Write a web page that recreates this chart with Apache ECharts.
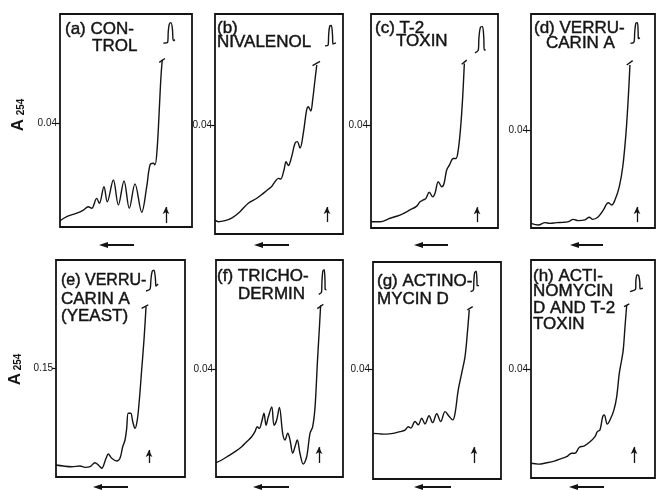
<!DOCTYPE html>
<html><head><meta charset="utf-8">
<script src="https://cdn.jsdelivr.net/npm/echarts@6/dist/echarts.min.js"></script>
<style>html,body{margin:0;padding:0;background:#fff}#c{width:656px;height:490px}</style>
</head><body><div id="c"></div>
<script>
// ---- data (x: position across gradient 0-100, y: A254) ----
const profileA = [[0,0.0024],[5.1,0.0040],[12.7,0.0053],[17.7,0.0065],[21.4,0.0078],[24.0,0.0072],[27.8,0.0110],[29.8,0.0091],[33.3,0.0155],[35.8,0.0097],[40.4,0.0181],[44.2,0.0085],[48.5,0.0177],[52.5,0.0072],[56.8,0.0166],[61.9,0.0057],[65.7,0.0155],[68.2,0.0239],[70.7,0.0245],[72.0,0.0239],[73.7,0.0309],[75.2,0.0450],[76.5,0.0579],[77.5,0.0643]];
const profileB = [[0,0.0051],[2.6,0.0045],[7.8,0.0049],[13.0,0.0058],[19.5,0.0082],[26.0,0.0113],[32.6,0.0131],[37.7,0.0149],[41.6,0.0164],[44.3,0.0174],[46.9,0.0192],[49.5,0.0204],[51.3,0.0202],[53.9,0.0235],[55.5,0.0265],[57.3,0.0251],[59.9,0.0284],[62.5,0.0333],[64.3,0.0339],[66.4,0.0315],[69.0,0.0370],[71.6,0.0455],[72.9,0.0467],[74.8,0.0451],[76.3,0.0492],[78.1,0.0565],[79.5,0.0620]];
const profileC = [[0,0.0024],[7.1,0.0024],[15.0,0.0038],[22.8,0.0050],[30.7,0.0070],[36.0,0.0085],[38.6,0.0102],[41.2,0.0109],[43.3,0.0115],[45.9,0.0139],[48.6,0.0121],[50.4,0.0135],[53.0,0.0180],[55.7,0.0160],[57.5,0.0173],[59.6,0.0225],[61.7,0.0244],[64.8,0.0270],[66.9,0.0270],[68.7,0.0303],[70.6,0.0393],[72.2,0.0509],[73.5,0.0639]];
const profileD = [[0,0.0019],[5.9,0.0012],[11.3,0.0022],[15.3,0.0019],[20.7,0.0022],[26.0,0.0023],[30.1,0.0026],[34.1,0.0035],[38.1,0.0030],[43.5,0.0033],[47.0,0.0044],[49.8,0.0035],[54.3,0.0046],[58.3,0.0073],[62.3,0.0103],[65.1,0.0094],[67.7,0.0114],[71.2,0.0169],[74.0,0.0250],[76.6,0.0386],[78.5,0.0536],[79.8,0.0665]];
const profileE = [[0,0.0165],[5.7,0.0151],[12.2,0.0142],[18.6,0.0151],[22.5,0.0133],[26.4,0.0142],[30.2,0.0197],[34.1,0.0142],[35.4,0.0120],[38.8,0.0257],[40.5,0.0316],[43.2,0.0257],[47.1,0.0220],[49.6,0.0257],[51.7,0.0417],[53.5,0.0509],[54.8,0.0670],[56.0,0.0877],[57.9,0.0877],[59.5,0.0761],[61.2,0.0670],[63.0,0.0784],[64.6,0.1060],[66.4,0.1472],[68.2,0.1885],[69.8,0.2343]];
const profileF = [[0,0.0053],[4.5,0.0063],[9.7,0.0078],[15.0,0.0094],[20.2,0.0112],[24.2,0.0131],[28.1,0.0149],[30.7,0.0168],[32.5,0.0186],[34.1,0.0180],[36.0,0.0205],[37.8,0.0236],[39.4,0.0192],[41.2,0.0223],[43.9,0.0260],[45.7,0.0192],[47.8,0.0211],[49.9,0.0258],[52.5,0.0162],[54.3,0.0137],[56.5,0.0162],[58.3,0.0137],[60.4,0.0088],[62.2,0.0112],[64.0,0.0137],[66.1,0.0088],[68.7,0.0048],[71.4,0.0075],[74.0,0.0162],[76.1,0.0186],[78.0,0.0260],[79.8,0.0421],[81.3,0.0544],[82.4,0.0636]];
const profileG = [[0,0.0166],[5.5,0.0164],[10.7,0.0163],[15.9,0.0166],[21.1,0.0172],[25.0,0.0178],[27.6,0.0190],[29.5,0.0185],[32.8,0.0209],[35.4,0.0197],[38.0,0.0221],[40.6,0.0200],[43.8,0.0230],[46.6,0.0205],[49.8,0.0237],[52.9,0.0209],[56.3,0.0245],[59.6,0.0227],[62.3,0.0215],[64.1,0.0239],[66.6,0.0324],[69.3,0.0385],[71.9,0.0445],[73.7,0.0530],[75.2,0.0615]];
const profileH = [[0,0.0054],[5.9,0.0051],[12.7,0.0056],[19.4,0.0063],[24.8,0.0072],[28.8,0.0078],[32.8,0.0091],[35.5,0.0091],[39.0,0.0113],[42.7,0.0117],[47.6,0.0133],[51.6,0.0152],[53.5,0.0170],[55.6,0.0176],[57.8,0.0225],[59.1,0.0231],[61.5,0.0198],[64.3,0.0219],[66.9,0.0250],[69.1,0.0298],[71.2,0.0384],[73.1,0.0433],[74.4,0.0470],[75.8,0.0555],[77.2,0.0635]];

// broken-off top of the 80S peak (inset) and the break mark
const peakA = [[78.3,0.0707],[81.6,0.0711],[82.0,0.0750],[82.8,0.0780],[84.1,0.0786],[85.2,0.0760],[85.8,0.0717],[87.1,0.0720]];
const peakB = [[85.9,0.0690],[88.3,0.0692],[88.8,0.0730],[89.6,0.0762],[90.9,0.0765],[91.8,0.0730],[92.2,0.0697],[94.5,0.0701]];
const peakC = [[81.9,0.0680],[84.5,0.0691],[85.0,0.0740],[86.2,0.0780],[87.8,0.0782],[88.8,0.0740],[89.2,0.0691],[90.3,0.0693]];
const peakD = [[80.2,0.0753],[83.1,0.0759],[83.6,0.0795],[84.5,0.0835],[85.8,0.0838],[86.4,0.0800],[86.5,0.0773],[87.9,0.0775]];
const peakE = [[69.8,0.2559],[72.9,0.2587],[73.6,0.2720],[74.6,0.2830],[76.0,0.2845],[77.1,0.2720],[77.5,0.2628],[79.1,0.2656]];
const peakF = [[80.9,0.0677],[83.1,0.0685],[83.4,0.0720],[84.1,0.0762],[85.2,0.0768],[85.8,0.0730],[85.9,0.0696],[87.0,0.0694]];
const peakG = [[76.2,0.0681],[78.5,0.0688],[78.8,0.0720],[79.4,0.0750],[80.6,0.0756],[81.2,0.0725],[81.3,0.0703],[82.8,0.0703]];
const peakH = [[79.8,0.0684],[84.4,0.0694],[84.6,0.0725],[85.5,0.0745],[86.8,0.0743],[87.7,0.0720],[87.9,0.0694],[90.3,0.0697]];

const breakA = [[75.2,0.0633],[79.5,0.0648]];
const breakB = [[76.2,0.0618],[82.0,0.0633]];
const breakC = [[71.4,0.0636],[75.4,0.0652]];
const breakD = [[77.2,0.0665],[82.0,0.0683]];
const breakE = [[66.4,0.2321],[71.5,0.2367]];
const breakF = [[79.8,0.0624],[84.5,0.0640]];
const breakG = [[73.7,0.0615],[77.9,0.0627]];
const breakH = [[75.0,0.0629],[79.3,0.0639]];

// small up-arrow markers (x position, from y, to y)
const markerX    = [80.3, 87.5, 83.5, 85.5, 72.1, 81.1, 78.9, 83.1];
const markerFrom = [0.0015, 0.0044, 0.0023, 0.0024, 0.0193, 0.0052, 0.0058, 0.0055];
const markerTo   = [0.0077, 0.0099, 0.0081, 0.0086, 0.0372, 0.0111, 0.0116, 0.0114];

// axis tick labels and ranges
const tickValues = [0.04, 0.04, 0.04, 0.04, 0.15, 0.04, 0.04, 0.04];
const yMax = [0.0819, 0.0807, 0.0831, 0.0873, 0.2986, 0.0804, 0.0789, 0.0800];

const panelTitles = [
  ['(a) CON-', 'TROL'],
  ['(b)', 'NIVALENOL'],
  ['(c) T-2', 'TOXIN'],
  ['(d) VERRU-', 'CARIN A'],
  ['(e) VERRU-', 'CARIN A', '(YEAST)'],
  ['(f) TRICHO-', 'DERMIN'],
  ['(g) ACTINO-', 'MYCIN D'],
  ['(h) ACTI-', 'NOMYCIN', 'D AND T-2', 'TOXIN']
];

// ---- layout ----
const profiles = [profileA, profileB, profileC, profileD, profileE, profileF, profileG, profileH];
const peaks = [peakA, peakB, peakC, peakD, peakE, peakF, peakG, peakH];
const breaks = [breakA, breakB, breakC, breakD, breakE, breakF, breakG, breakH];

const boxes = [
  {left: 60, top: 14, width: 132, height: 213},
  {left: 215, top: 14, width: 128, height: 220},
  {left: 371, top: 14, width: 127, height: 214},
  {left: 531, top: 14, width: 124, height: 214},
  {left: 56, top: 260, width: 129, height: 217},
  {left: 216, top: 260, width: 127, height: 217},
  {left: 373, top: 262, width: 128, height: 217},
  {left: 531, top: 260, width: 124, height: 218}
];
const titlePos = [
  [[65, 21], [92, 38]],
  [[217, 20], [217, 34]],
  [[375, 20], [396, 33]],
  [[534, 20], [546, 35]],
  [[61, 273], [61, 291], [61, 308]],
  [[217, 268], [238, 286]],
  [[377, 273], [377, 291]],
  [[533, 268], [533, 283], [533, 300], [533, 316]]
];
const titleSize = [
  [17, 17], [17, 17], [17, 17], [17, 17],
  [16, 17, 17], [17, 17], [17, 17], [17, 17, 17, 17]
];
const arrowsBelow = [
  [99, 134, 245], [254, 289, 245], [414, 448, 245], [570, 603, 245],
  [93, 128, 487], [253, 289, 487], [414, 451, 487], [569, 604, 487]
];

const FONT = '"Liberation Sans", Arial, Helvetica, sans-serif';
const INK = '#141414';

const grid = [], xAxis = [], yAxis = [], series = [], graphic = [];

for (let i = 0; i < 8; i++) {
  const b = boxes[i];
  grid.push({left: b.left, top: b.top, width: b.width, height: b.height,
    show: true, borderColor: INK, borderWidth: 1.8, backgroundColor: 'transparent', containLabel: false});
  xAxis.push({type: 'value', gridIndex: i, min: 0, max: 100, show: false});
  yAxis.push({type: 'value', gridIndex: i, min: 0, max: yMax[i],
    axisLine: {show: false}, splitLine: {show: false},
    axisTick: {show: true, customValues: [tickValues[i]], length: 4, lineStyle: {color: INK, width: 1.2}},
    axisLabel: {show: true, customValues: [tickValues[i]], fontSize: 10, color: INK, margin: 3, fontFamily: FONT}
  });
  series.push({
    type: 'line', xAxisIndex: i, yAxisIndex: i, data: profiles[i], smooth: 0.35,
    symbol: 'none', clip: false, lineStyle: {color: INK, width: 1.4},
    markLine: {
      silent: true, animation: false, label: {show: false},
      lineStyle: {color: INK, width: 1.3, type: 'solid'},
      data: [[
        {coord: [markerX[i], markerFrom[i]], symbol: 'none'},
        {coord: [markerX[i], markerTo[i]], symbol: 'arrow', symbolSize: [5, 7]}
      ]]
    }
  });
  series.push({type: 'line', xAxisIndex: i, yAxisIndex: i, data: breaks[i], smooth: false,
    symbol: 'none', clip: false, lineStyle: {color: INK, width: 1.4}});
  series.push({type: 'line', xAxisIndex: i, yAxisIndex: i, data: peaks[i], smooth: 0.3,
    symbol: 'none', clip: false, lineStyle: {color: INK, width: 1.4}});

  panelTitles[i].forEach((t, k) => {
    graphic.push({type: 'text', x: titlePos[i][k][0], y: titlePos[i][k][1], silent: true,
      style: {text: t, font: titleSize[i][k] + 'px ' + FONT, fill: INK, stroke: INK, lineWidth: 0.45,
        textAlign: 'left', textVerticalAlign: 'top', align: 'left', verticalAlign: 'top'}});
  });

  const [x1, x2, y] = arrowsBelow[i];
  graphic.push({type: 'line', silent: true, shape: {x1: x1 + 7, y1: y, x2: x2, y2: y},
    style: {stroke: INK, lineWidth: 2}});
  graphic.push({type: 'polygon', silent: true, shape: {points: [[x1, y], [x1 + 9, y - 3], [x1 + 9, y + 3]]},
    style: {fill: INK}});
}

// y-axis titles A254 (rotated)
const yTitles = [[18, 125, 21, 107], [15, 379, 18, 362]];
yTitles.forEach(([ax, ay, sx, sy]) => {
  graphic.push({type: 'text', x: ax, y: ay, rotation: Math.PI / 2, silent: true,
    style: {text: 'A', font: 'bold 17px ' + FONT, fill: INK, textAlign: 'center', textVerticalAlign: 'middle', align: 'center', verticalAlign: 'middle'}});
  graphic.push({type: 'text', x: sx, y: sy, rotation: Math.PI / 2, silent: true,
    style: {text: '254', font: 'bold 10px ' + FONT, fill: INK, textAlign: 'center', textVerticalAlign: 'middle', align: 'center', verticalAlign: 'middle'}});
});

const chart = echarts.init(document.getElementById('c'), null, {renderer: 'canvas'});
chart.setOption({animation: false, backgroundColor: '#fff', grid, xAxis, yAxis, series, graphic});
</script>
</body></html>
